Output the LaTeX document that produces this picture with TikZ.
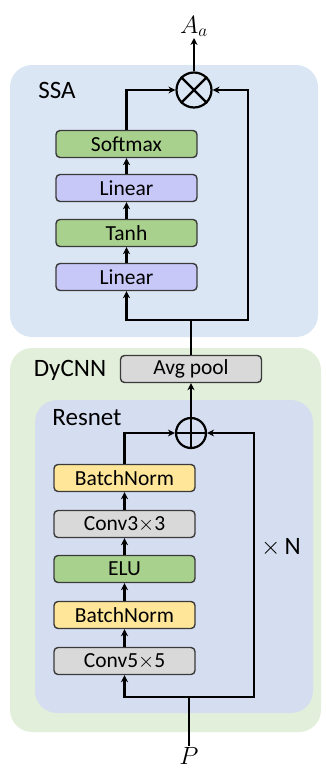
\documentclass[tikz,border=0pt]{standalone}
\usepackage{fontspec}
\setmainfont{Carlito}
\usepackage{tikz}
\usetikzlibrary{positioning,calc,arrows.meta}

\definecolor{ssabg}{HTML}{DAE6F3}
\definecolor{dybg}{HTML}{E2EFDA}
\definecolor{resbg}{HTML}{D5DEF1}
\definecolor{actfill}{HTML}{A9D18E}
\definecolor{linfill}{HTML}{C8C8F8}
\definecolor{convfill}{HTML}{D9D9D9}
\definecolor{bnfill}{HTML}{FFE699}
\definecolor{edgegray}{HTML}{3A3A3A}

\tikzset{
  block/.style={draw=edgegray, line width=1.4pt, rounded corners=4pt,
    minimum width=141pt, minimum height=27pt, inner sep=0pt,
    font=\fontsize{21.5}{24}\selectfont},
  act/.style={block, fill=actfill},
  lin/.style={block, fill=linfill},
  conv/.style={block, fill=convfill},
  bn/.style={block, fill=bnfill},
  opnode/.style={draw, circle, line width=2.2pt, inner sep=0pt},
  region/.style={rounded corners=22pt},
  tag/.style={font=\fontsize{25}{28}\selectfont},
  wire/.style={line width=2.4pt},
  flow/.style={wire, -{Stealth[length=7pt,width=7pt]}}
}

\begin{document}
\begin{tikzpicture}[x=1pt, y=-1pt]
  \useasboundingbox (0,0) rectangle (325,771);

  % background regions
  \fill[ssabg, region] (10,65) rectangle (318,337);
  \fill[dybg, region] (10,348) rectangle (321,732);
  \fill[resbg, region] (35,400) rectangle (313,713);

  \node[tag] (ssa) at (57,90) {SSA};
  \node[tag] (dycnn) at (70,370) {DyCNN};
  \node[tag] (resnet) at (87,418) {Resnet};
  \node[tag] (times) at (281,548) {$\times$\,N};

  % SSA branch
  \node[act] (soft) at (126.5,144) {Softmax};
  \node[lin] (lin2) at (126.5,188) {Linear};
  \node[act] (tanh) at (126.5,233) {Tanh};
  \node[lin] (lin1) at (126.5,277) {Linear};
  \node[opnode, minimum size=35pt] (mul) at (194,90) {};
  \draw[line width=2.2pt] (mul.north west) -- (mul.south east)
                          (mul.north east) -- (mul.south west);
  \node[tag, inner sep=1pt, anchor=south] (out) at (194,38) {$A_a$};

  % DyCNN
  \node[conv] (pool) at (191,369) {Avg pool};
  \node[opnode, minimum size=30pt] (add) at (191,433) {};
  \draw[line width=2.2pt] (add.north) -- (add.south)
                          (add.west) -- (add.east);
  \node[bn] (bn2) at (124.5,478) {BatchNorm};
  \node[conv] (conv3) at (124.5,524) {Conv3$\times$3};
  \node[act] (elu) at (124.5,569) {ELU};
  \node[bn] (bn1) at (124.5,615) {BatchNorm};
  \node[conv] (conv5) at (124.5,661) {Conv5$\times$5};
  \node[tag, font=\fontsize{23}{26}\selectfont, inner sep=1pt, anchor=north] (inp) at (189,746) {$P$};

  \coordinate (split1) at (191,320);
  \coordinate (split2) at (189,697);

  % SSA wires
  \draw[wire] (pool.north) -- (split1);
  \draw[flow] (split1) -| (lin1.south);
  \draw[flow] (split1) -- (248,320) |- (mul.east);
  \draw[flow] (lin1) -- (tanh);
  \draw[flow] (tanh) -- (lin2);
  \draw[flow] (lin2) -- (soft);
  \draw[flow] (soft.north) |- (mul.west);
  \draw[flow] (mul.north) -- (out.south);

  % Resnet wires
  \draw[wire] (inp.north) -- (split2);
  \draw[flow] (split2) -| (conv5.south);
  \draw[flow] (split2) -- (254,697) |- (add.east);
  \draw[flow] (conv5) -- (bn1);
  \draw[flow] (bn1) -- (elu);
  \draw[flow] (elu) -- (conv3);
  \draw[flow] (conv3) -- (bn2);
  \draw[flow] (bn2.north) |- (add.west);
  \draw[flow] (add.north) -- (pool.south);
\end{tikzpicture}
\end{document}
